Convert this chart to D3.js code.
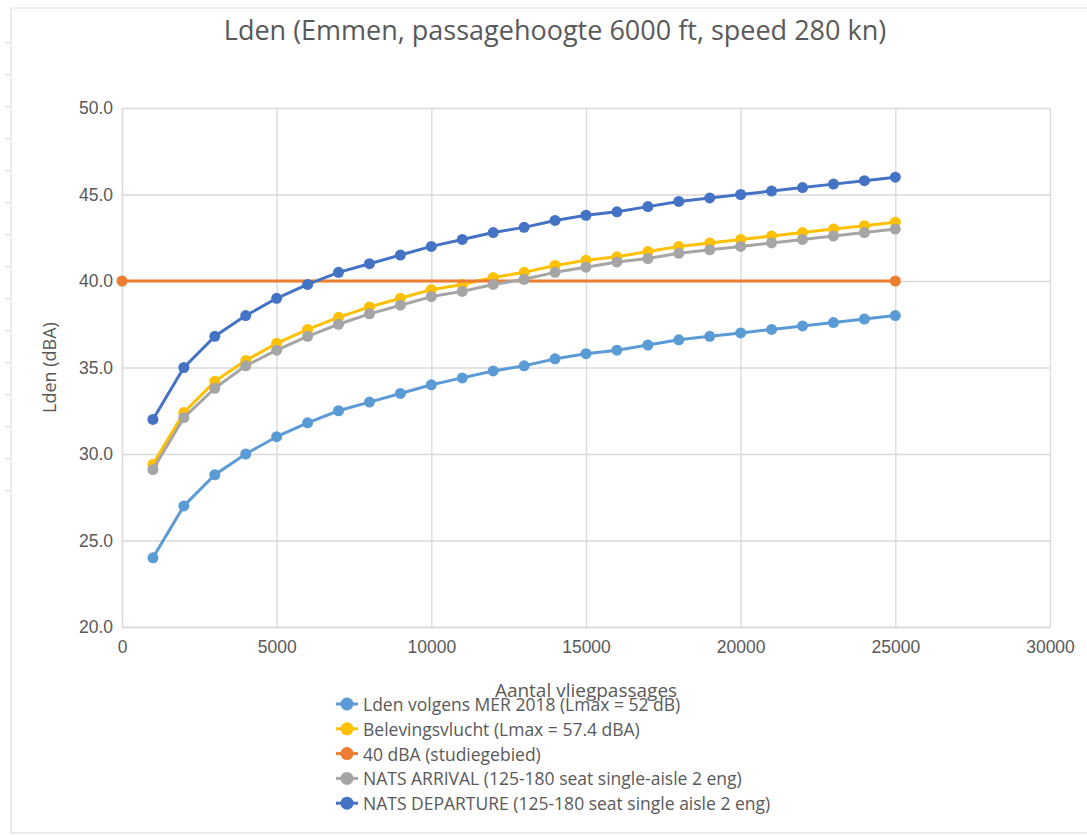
<!DOCTYPE html>
<html>
<head>
<meta charset="utf-8">
<script src="https://cdn.jsdelivr.net/npm/d3@7"></script>
<style>
  body { margin: 0; background: #fff; }
  svg { display: block; font-family: 'Open Sans', sans-serif; }
  .tick text { fill: #595959; font-size: 17.5px; }
</style>
</head>
<body>
<svg id="chart" width="1087" height="835"></svg>
<script>
// aantal vliegpassages (x)
const passages = [1000, 2000, 3000, 4000, 5000, 6000, 7000, 8000, 9000, 10000,
  11000, 12000, 13000, 14000, 15000, 16000, 17000, 18000, 19000, 20000,
  21000, 22000, 23000, 24000, 25000];

const merValues = [24.0, 27.0, 28.8, 30.0, 31.0, 31.8, 32.5, 33.0, 33.5, 34.0,
  34.4, 34.8, 35.1, 35.5, 35.8, 36.0, 36.3, 36.6, 36.8, 37.0,
  37.2, 37.4, 37.6, 37.8, 38.0];
const belevingValues = [29.4, 32.4, 34.2, 35.4, 36.4, 37.2, 37.9, 38.5, 39.0, 39.5,
  39.8, 40.2, 40.5, 40.9, 41.2, 41.4, 41.7, 42.0, 42.2, 42.4,
  42.6, 42.8, 43.0, 43.2, 43.4];
const arrivalValues = [29.1, 32.1, 33.8, 35.1, 36.0, 36.8, 37.5, 38.1, 38.6, 39.1,
  39.4, 39.8, 40.1, 40.5, 40.8, 41.1, 41.3, 41.6, 41.8, 42.0,
  42.2, 42.4, 42.6, 42.8, 43.0];
const departureValues = [32.0, 35.0, 36.8, 38.0, 39.0, 39.8, 40.5, 41.0, 41.5, 42.0,
  42.4, 42.8, 43.1, 43.5, 43.8, 44.0, 44.3, 44.6, 44.8, 45.0,
  45.2, 45.4, 45.6, 45.8, 46.0];
const thresholdX = [0, 25000];
const thresholdValues = [40, 40];

const seriesNames = [
  'Lden volgens MER 2018 (Lmax = 52 dB)',
  'Belevingsvlucht (Lmax = 57.4 dBA)',
  '40 dBA (studiegebied)',
  'NATS ARRIVAL (125-180 seat single-aisle 2 eng)',
  'NATS DEPARTURE (125-180 seat single aisle 2 eng)'
];
const seriesColors = ['#5b9bd5', '#ffc000', '#ed7d31', '#a5a5a5', '#4472c4'];

const xTicks = [0, 5000, 10000, 15000, 20000, 25000, 30000];
const yTicks = [20, 25, 30, 35, 40, 45, 50];

const series = [
  {xs: passages, ys: merValues},
  {xs: passages, ys: belevingValues},
  {xs: thresholdX, ys: thresholdValues},
  {xs: passages, ys: arrivalValues},
  {xs: passages, ys: departureValues}
].map((s, i) => ({
  name: seriesNames[i],
  color: seriesColors[i],
  points: s.xs.map((x, j) => ({x: x, y: s.ys[j]}))
}));

const svg = d3.select('#chart');
const plot = {l: 122, r: 1050, t: 108, b: 627};

// ruler / border remnants of the screenshot
const frame = svg.append('g');
frame.append('line').attr('x1', 11).attr('x2', 11).attr('y1', 8).attr('y2', 834)
  .attr('stroke', '#e4e4e4').attr('stroke-width', 1.5);
frame.append('line').attr('x1', 11).attr('x2', 1087).attr('y1', 8).attr('y2', 8)
  .attr('stroke', '#ececec').attr('stroke-width', 1.5);
frame.append('line').attr('x1', 11).attr('x2', 1087).attr('y1', 833).attr('y2', 833)
  .attr('stroke', '#e4e4e4').attr('stroke-width', 1.5);
frame.selectAll('.rulerTick')
  .data(d3.range(11, 26))
  .join('line')
  .attr('x1', 5).attr('x2', 10)
  .attr('y1', d => 42 + (d - 11) * 32 + 0.5)
  .attr('y2', d => 42 + (d - 11) * 32 + 0.5)
  .attr('stroke', '#dcdcdc');

let xScale = d3.scaleLinear().domain([0, 30000]).range([plot.l, plot.r]);
let yScale = d3.scaleLinear().domain([20, 50]).range([plot.b, plot.t]);

// gridlines
svg.append('g')
  .attr('transform', `translate(0, ${plot.b})`)
  .call(d3.axisBottom(xScale).tickValues(xTicks).tickSize(-(plot.b - plot.t)).tickFormat(''))
  .call(g => g.select('.domain').remove())
  .selectAll('line').attr('stroke', '#d9d9d9').attr('stroke-width', 1.3);
svg.append('g')
  .attr('transform', `translate(${plot.l}, 0)`)
  .call(d3.axisLeft(yScale).tickValues(yTicks).tickSize(-(plot.r - plot.l)).tickFormat(''))
  .call(g => g.select('.domain').remove())
  .selectAll('line').attr('stroke', '#d9d9d9').attr('stroke-width', 1.3);

// axis labels
let xAxis = svg.append('g')
  .attr('transform', `translate(0, ${plot.b})`)
  .call(d3.axisBottom(xScale).tickValues(xTicks).tickSize(0).tickPadding(14).tickFormat(d3.format('d')));
xAxis.select('.domain').attr('stroke', '#d9d9d9').attr('stroke-width', 1.3);

let yAxis = svg.append('g')
  .attr('transform', `translate(${plot.l}, 0)`)
  .call(d3.axisLeft(yScale).tickValues(yTicks).tickSize(0).tickPadding(9).tickFormat(d3.format('.1f')));
yAxis.select('.domain').attr('stroke', '#d9d9d9').attr('stroke-width', 1.3);

// lines and markers
let line = d3.line().x(d => xScale(d.x)).y(d => yScale(d.y));

let groups = svg.selectAll('.serie')
  .data(series)
  .join('g')
  .classed('serie', true);

groups.append('path')
  .attr('d', d => line(d.points))
  .attr('fill', 'none')
  .attr('stroke', d => d.color)
  .attr('stroke-width', 3)
  .attr('stroke-linejoin', 'round');

groups.selectAll('circle')
  .data(d => d.points.map(p => ({x: p.x, y: p.y, color: d.color})))
  .join('circle')
  .attr('cx', d => xScale(d.x))
  .attr('cy', d => yScale(d.y))
  .attr('r', 5.5)
  .attr('fill', d => d.color);

// title
svg.append('text')
  .attr('x', 555).attr('y', 40)
  .attr('text-anchor', 'middle')
  .attr('fill', '#595959')
  .style('font-size', '27px')
  .text('Lden (Emmen, passagehoogte 6000 ft, speed 280 kn)');

// axis titles
svg.append('text')
  .attr('transform', `translate(56, ${(plot.t + plot.b) / 2}) rotate(-90)`)
  .attr('text-anchor', 'middle')
  .attr('fill', '#595959')
  .style('font-size', '18px')
  .text('Lden (dBA)');

svg.append('text')
  .attr('x', 586).attr('y', 697)
  .attr('text-anchor', 'middle')
  .attr('fill', '#595959')
  .style('font-size', '19px')
  .text('Aantal vliegpassages');

// legend
let legend = svg.append('g').attr('transform', 'translate(347, 704)');
let items = legend.selectAll('.legendItem')
  .data(series)
  .join('g')
  .classed('legendItem', true)
  .attr('transform', (d, i) => `translate(0, ${i * 24.8})`);

items.append('line')
  .attr('x1', -11).attr('x2', 11)
  .attr('stroke', d => d.color).attr('stroke-width', 3);
items.append('circle')
  .attr('r', 6.5)
  .attr('fill', d => d.color);
items.append('text')
  .attr('x', 16).attr('y', 0)
  .attr('dominant-baseline', 'central')
  .attr('fill', '#595959')
  .style('font-size', '17.5px')
  .text(d => d.name);
</script>
</body>
</html>
